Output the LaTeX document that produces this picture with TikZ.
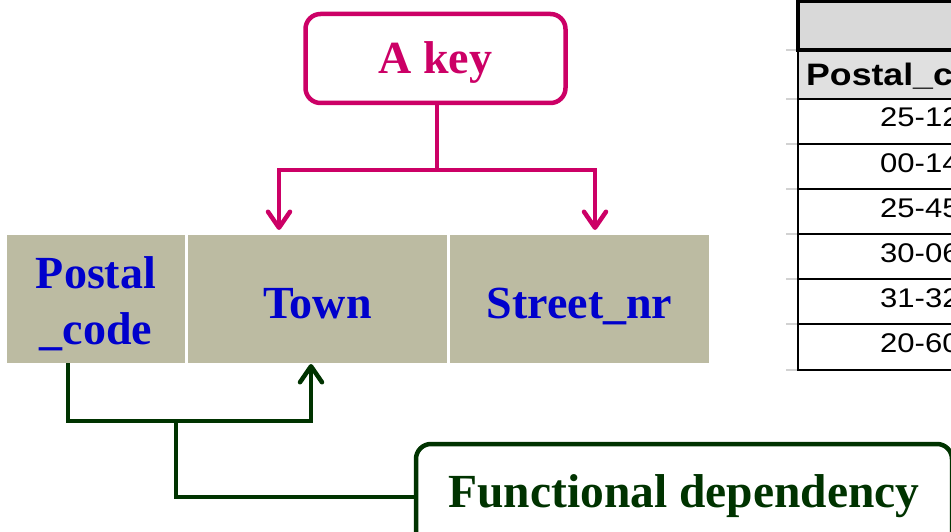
\documentclass[tikz,border=0pt]{standalone}
\usepackage{fontspec}
\setmainfont{Liberation Serif}
\newfontfamily\tabfont[FakeStretch=1.15]{Liberation Sans}
\usetikzlibrary{positioning,arrows.meta}

\definecolor{keycol}{RGB}{204,0,102}
\definecolor{fdcol}{RGB}{0,51,0}
\definecolor{cellgray}{RGB}{188,187,162}
\definecolor{attrblue}{RGB}{0,0,204}
\definecolor{hdrgray}{RGB}{217,217,217}
\definecolor{hdrlight}{RGB}{224,224,224}

\begin{document}
\begin{tikzpicture}[x=1pt,y=-1pt,
    cell/.style={rectangle, fill=cellgray, inner sep=0pt, outer sep=0pt, minimum height=128pt, text=attrblue, font=\bfseries\fontsize{46}{56}\selectfont},
    keybox/.style={rectangle, rounded corners=15pt, draw=keycol, line width=4.5pt, text=keycol, font=\bfseries\fontsize{46}{56}\selectfont},
    fdbox/.style={rectangle, rounded corners=15pt, draw=fdcol, line width=4.5pt, text=fdcol, font=\bfseries\fontsize{47.5}{56}\selectfont},
    keyarrow/.style={draw=keycol, line width=4.5pt, -{Straight Barb[length=16pt,width=22pt,round]}},
    fdarrow/.style={draw=fdcol, line width=4.5pt, -{Straight Barb[length=16pt,width=22pt,round]}},
    tabhead/.style={inner sep=0pt, font=\tabfont\bfseries\fontsize{31}{36}\selectfont},
    tabcell/.style={inner sep=0pt, font=\tabfont\fontsize{27}{32}\selectfont}]
    \useasboundingbox (0,0) rectangle (951,532);
    \clip (0,0) rectangle (951,532);

    %% Relation attributes
    \node[cell, minimum width=178pt] (pc) at (96,299) {\raisebox{-6pt}[\height][\depth]{\begin{tabular}{@{}c@{}}
         Postal \\
         \_code
    \end{tabular}}};
    \node[cell, minimum width=259pt, text height=38pt, text depth=0pt, right=3pt of pc] (town) {Town};
    \node[cell, minimum width=259pt, text height=38pt, text depth=0pt, right=3pt of town] (street) {Street\_nr};

    %% Key
    \node[keybox, minimum width=260pt, minimum height=89pt, text height=33pt, text depth=2pt] (key) at (435.5,58.5) {A key};
    \coordinate (kbar) at (437,170);
    \draw[draw=keycol, line width=4.5pt] (key.south -| kbar) -- (kbar);
    \draw[keyarrow, shorten >=5pt] (kbar) -| ([xshift=-38.5pt]town.north);
    \draw[keyarrow, shorten >=5pt] (kbar) -| ([xshift=15.5pt]street.north);

    %% Functional dependency
    \node[fdbox, minimum width=536pt, minimum height=106pt, text height=33pt, text depth=12pt] (fd) at (684,497) {Functional dependency};
    \coordinate (fdj) at (176,421);
    \draw[fdarrow, shorten >=1pt] ([xshift=-28pt]pc.south) |- ([xshift=-6.5pt]town.south |- fdj) -- ([xshift=-6.5pt]town.south);
    \draw[draw=fdcol, line width=4.5pt] (fdj) |- (fd.west);

    %% Table on the right
    \foreach \y in {50,99,144,189,234,279,324,370}
        \draw[gray!35, line width=1.5pt] (786,\y) -- (797,\y);
    \fill[hdrlight] (798,50) rectangle (990,99);
    \foreach \y in {99,144,189,234,279,324,370}
        \draw[line width=1.5pt] (798,\y) -- (990,\y);
    \draw[line width=2pt] (798,50) -- (798,371);
    \draw[line width=4pt, fill=hdrgray] (798,1) rectangle (990,50);
    \node[tabhead, anchor=base west] (hpc) at (806,86) {Postal\_code};
    \foreach \v [count=\i] in {25-12,00-14,25-45,30-06,31-32,20-60}
        \node[tabcell, anchor=base west] (row\i) at (880,{82+45*\i}) {\v};
\end{tikzpicture}
\end{document}
